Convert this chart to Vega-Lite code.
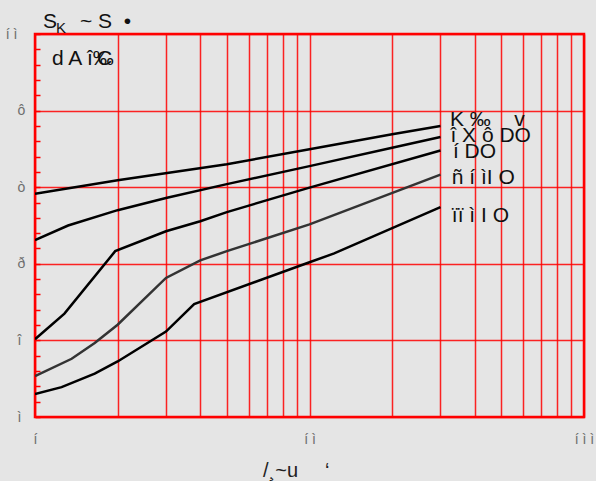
{
  "$schema": "https://vega.github.io/schema/vega-lite/v6.json",
  "width": 549,
  "height": 383,
  "autosize": {"type": "none"},
  "padding": {"left": 35, "top": 34, "right": 12, "bottom": 64},
  "background": "#e5e5e5",
  "config": {
    "view": {"stroke": "#ff0000", "strokeWidth": 2.5, "fill": "#e5e5e5"},
    "font": "Liberation Sans"
  },
  "encoding": {
    "x": {
      "field": "ID",
      "type": "quantitative",
      "scale": {"type": "log", "domain": [1, 100], "nice": false},
      "axis": {
        "values": [1, 2, 3, 4, 5, 6, 7, 8, 9, 10, 20, 30, 40, 50, 60, 70, 80, 90, 100],
        "labelExpr": "datum.value == 1 ? 'í' : datum.value == 10 ? 'í ì' : datum.value == 100 ? 'í ì ì' : ''",
        "labelOverlap": false,
        "labelFlush": false,
        "grid": true,
        "gridColor": "#ff0000",
        "gridWidth": 1.5,
        "gridOpacity": 0.85,
        "ticks": false,
        "domain": false,
        "labelPadding": 15,
        "labelFontSize": 14,
        "labelColor": "#6e6e6e",
        "title": null
      }
    },
    "y": {
      "field": "gfs",
      "type": "quantitative",
      "scale": {"domain": [0, 10], "nice": false, "zero": false},
      "axis": {
        "values": [0, 0.4, 0.8, 1.2, 1.6, 2, 2.4, 2.8, 3.2, 3.6, 4, 4.4, 4.8, 5.2, 5.6, 6, 6.4, 6.8, 7.2, 7.6, 8, 8.4, 8.8, 9.2, 9.6, 10],
        "labelExpr": "datum.value == 0 ? 'ì' : datum.value == 2 ? 'î' : datum.value == 4 ? 'ð' : datum.value == 6 ? 'ò' : datum.value == 8 ? 'ô' : datum.value == 10 ? 'í ì' : ''",
        "labelOverlap": false,
        "labelFlush": false,
        "labelAlign": {"condition": {"test": "datum.value == 10", "value": "right"}, "value": "left"},
        "grid": true,
        "gridColor": "#ff0000",
        "gridWidth": 1.5,
        "gridOpacity": {"condition": {"test": "datum.value % 2 == 0", "value": 0.85}, "value": 0},
        "offset": -5,
        "ticks": true,
        "tickSize": 5,
        "tickColor": "#ff0000",
        "tickWidth": 1.5,
        "domain": false,
        "labelPadding": 18,
        "labelFontSize": 14,
        "labelColor": "#6e6e6e",
        "title": null
      }
    }
  },
  "datasets": {
    "curves": [
      {"curve": "K ‰\u00a0\u00a0\u00a0\u00a0v", "ID": 1, "gfs": 5.83},
      {"curve": "K ‰\u00a0\u00a0\u00a0\u00a0v", "ID": 2, "gfs": 6.18},
      {"curve": "K ‰\u00a0\u00a0\u00a0\u00a0v", "ID": 5, "gfs": 6.6},
      {"curve": "K ‰\u00a0\u00a0\u00a0\u00a0v", "ID": 10, "gfs": 6.99},
      {"curve": "K ‰\u00a0\u00a0\u00a0\u00a0v", "ID": 20, "gfs": 7.38},
      {"curve": "K ‰\u00a0\u00a0\u00a0\u00a0v", "ID": 30, "gfs": 7.6},
      {"curve": "î X ô DO", "ID": 1, "gfs": 4.62},
      {"curve": "î X ô DO", "ID": 1.32, "gfs": 5.0},
      {"curve": "î X ô DO", "ID": 2, "gfs": 5.4},
      {"curve": "î X ô DO", "ID": 3, "gfs": 5.72},
      {"curve": "î X ô DO", "ID": 5, "gfs": 6.08},
      {"curve": "î X ô DO", "ID": 10, "gfs": 6.55},
      {"curve": "î X ô DO", "ID": 20, "gfs": 7.03},
      {"curve": "î X ô DO", "ID": 30, "gfs": 7.31},
      {"curve": "í DO", "ID": 1, "gfs": 2.03},
      {"curve": "í DO", "ID": 1.28, "gfs": 2.7},
      {"curve": "í DO", "ID": 1.96, "gfs": 4.33},
      {"curve": "í DO", "ID": 3, "gfs": 4.85},
      {"curve": "í DO", "ID": 4, "gfs": 5.11},
      {"curve": "í DO", "ID": 5, "gfs": 5.35},
      {"curve": "í DO", "ID": 10, "gfs": 5.99},
      {"curve": "í DO", "ID": 30, "gfs": 6.96},
      {"curve": "ñ í ìI O", "ID": 1, "gfs": 1.07},
      {"curve": "ñ í ìI O", "ID": 1.36, "gfs": 1.52},
      {"curve": "ñ í ìI O", "ID": 1.65, "gfs": 1.93},
      {"curve": "ñ í ìI O", "ID": 2, "gfs": 2.41},
      {"curve": "ñ í ìI O", "ID": 3, "gfs": 3.63},
      {"curve": "ñ í ìI O", "ID": 4, "gfs": 4.09},
      {"curve": "ñ í ìI O", "ID": 5, "gfs": 4.33},
      {"curve": "ñ í ìI O", "ID": 10, "gfs": 5.03},
      {"curve": "ñ í ìI O", "ID": 30, "gfs": 6.33},
      {"curve": "ïï ì I O", "ID": 1, "gfs": 0.6},
      {"curve": "ïï ì I O", "ID": 1.25, "gfs": 0.78},
      {"curve": "ïï ì I O", "ID": 1.65, "gfs": 1.13},
      {"curve": "ïï ì I O", "ID": 2, "gfs": 1.45},
      {"curve": "ïï ì I O", "ID": 3, "gfs": 2.23},
      {"curve": "ïï ì I O", "ID": 3.8, "gfs": 2.95},
      {"curve": "ïï ì I O", "ID": 10, "gfs": 4.04},
      {"curve": "ïï ì I O", "ID": 12.3, "gfs": 4.27},
      {"curve": "ïï ì I O", "ID": 30, "gfs": 5.48}
    ],
    "labels": [
      {"curve": "K ‰\u00a0\u00a0\u00a0\u00a0v", "ID": 32.5, "gfs": 7.6},
      {"curve": "î X ô DO", "ID": 32.6, "gfs": 7.19},
      {"curve": "í DO", "ID": 33.3, "gfs": 6.76},
      {"curve": "ñ í ìI O", "ID": 33.0, "gfs": 6.08},
      {"curve": "ïï ì I O", "ID": 33.0, "gfs": 5.08}
    ],
    "notes": [
      {"part": "big", "text": "S", "ID": 1.069, "gfs": 10.157},
      {"part": "sub", "text": "K", "ID": 1.192, "gfs": 10.03},
      {"part": "big", "text": "~ S\u00a0\u00a0•", "ID": 1.458, "gfs": 10.157},
      {"part": "big", "text": "d A î‰", "ID": 1.153, "gfs": 9.19},
      {"part": "big", "text": "C", "ID": 1.682, "gfs": 9.19},
      {"part": "axis", "text": "/¸~u", "ID": 6.77, "gfs": -1.567},
      {"part": "axis", "text": "‘", "ID": 11.39, "gfs": -1.567}
    ]
  },
  "layer": [
    {
      "data": {"name": "curves"},
      "mark": {"type": "line", "strokeWidth": 2.5, "clip": true},
      "encoding": {
        "color": {
          "field": "curve",
          "type": "nominal",
          "scale": {
            "domain": ["K ‰\u00a0\u00a0\u00a0\u00a0v", "î X ô DO", "í DO", "ñ í ìI O", "ïï ì I O"],
            "range": ["#000000", "#000000", "#000000", "#333333", "#000000"]
          },
          "legend": null
        }
      }
    },
    {
      "data": {"name": "labels"},
      "mark": {"type": "text", "align": "left", "baseline": "alphabetic", "fontSize": 21, "color": "#111111"},
      "encoding": {
        "text": {"field": "curve", "type": "nominal"}
      }
    },
    {
      "data": {"name": "notes"},
      "transform": [{"filter": "datum.part == 'big'"}],
      "mark": {"type": "text", "align": "left", "baseline": "alphabetic", "fontSize": 21, "color": "#111111"},
      "encoding": {
        "text": {"field": "text", "type": "nominal"}
      }
    },
    {
      "data": {"name": "notes"},
      "transform": [{"filter": "datum.part == 'sub'"}],
      "mark": {"type": "text", "align": "left", "baseline": "alphabetic", "fontSize": 15, "color": "#111111"},
      "encoding": {
        "text": {"field": "text", "type": "nominal"}
      }
    },
    {
      "data": {"name": "notes"},
      "transform": [{"filter": "datum.part == 'axis'"}],
      "mark": {"type": "text", "align": "left", "baseline": "alphabetic", "fontSize": 20, "color": "#222222"},
      "encoding": {
        "text": {"field": "text", "type": "nominal"}
      }
    }
  ]
}
